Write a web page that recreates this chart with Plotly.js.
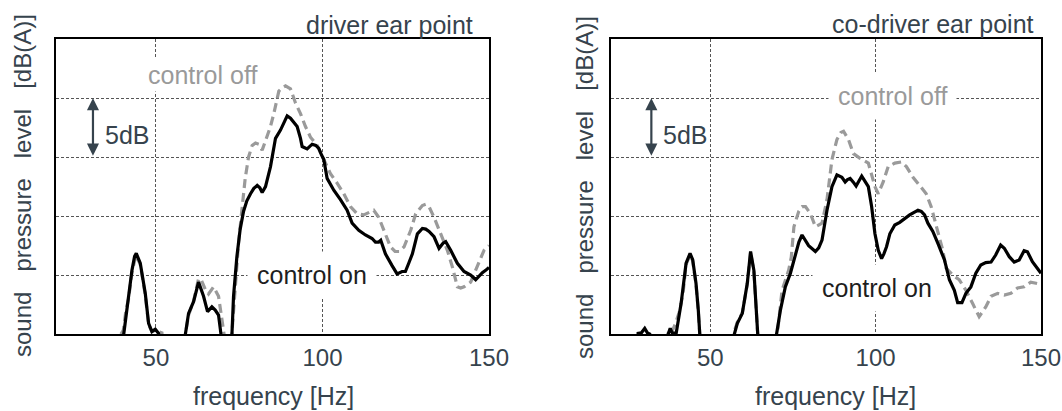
<!DOCTYPE html>
<html>
<head>
<meta charset="utf-8">
<script src="https://cdn.plot.ly/plotly-3.0.1.min.js"></script>
<style>html,body{margin:0;padding:0;background:#fff;}#chart{width:1062px;height:411px;}</style>
</head>
<body>
<div id="chart"></div>
<script>
// ---- data (relative sound pressure level, dB, 5 dB per grid step) ----
const tickVals = [50, 100, 150];
const tickText = ['50', '100', '150'];

// driver ear point, control on
const drvOnF = [20,40.0,40.3,41.8,42.8,43.6,44.1,45.3,46.8,47.8,48.8,49.8,50.8,51.5,
  58.3,58.8,59.8,61.3,62.8,64.3,65.5,66.8,67.8,68.8,69.5,70.0,
  72.0,72.8,73.3,74.3,75.3,76.3,77.3,78.4,79.4,80.4,81.2,81.9,82.9,84.4,85.9,87.4,88.4,89.4,90.4,91.4,92.4,93.4,93.9,95.4,96.9,98.0,98.9,99.7,100.4,101.4,102.4,103.4,105.4,107.4,108.9,109.9,110.9,112.9,114.9,115.9,116.9,117.5,118.9,120.9,122.4,123.9,124.9,125.9,127.0,128.5,130.0,131.0,132.0,133.5,135.0,136.2,137.0,138.5,140.5,142.5,144.5,146.0,147.0,148.0,149.0,150.0];
const drvOnV = [-3,-3,-0.1,3.2,5.4,6.6,6.84,6.0,3.45,0.9,0.2,0.4,0.05,-3,
  -3,-0.1,1.75,2.74,4.4,3.2,1.9,2.3,2.03,1.6,0.05,-3,
  -3,-0.2,3.2,6.55,8.9,10.4,11.3,11.9,12.35,12.6,12.4,12.0,12.5,14.2,16.6,17.3,17.9,18.5,18.3,17.9,17.6,16.6,15.9,15.7,16.1,16.0,15.75,15.2,14.8,13.2,12.7,12.2,11.4,10.5,9.4,9.1,8.8,8.4,8.1,7.8,7.8,7.95,6.8,5.8,5.1,5.3,5.3,6.0,6.8,8.5,8.96,8.9,8.7,8.25,7.27,7.7,7.83,7.1,6.0,5.3,5.0,4.6,4.9,5.2,5.4,5.65];

// driver ear point, control off
const drvOffF = [20,38.8,39.3,40.2,41.0,41.8,42.8,44.0,45.3,46.8,47.8,48.8,49.8,50.8,51.8,52.5,
  58.0,58.8,59.8,61.3,62.8,63.6,64.8,65.8,67.3,68.8,69.8,70.5,71.0,
  72.3,72.8,73.8,74.8,75.8,76.8,77.8,78.9,79.9,80.9,81.9,83.0,84.4,85.4,86.9,88.0,88.9,90.4,91.9,93.4,94.9,96.4,98.4,100.4,102.4,104.4,106.4,108.4,110.4,112.4,114.0,115.4,116.9,118.4,120.4,121.8,123.0,124.5,126.5,128.0,130.0,131.0,132.0,133.5,135.5,137.5,139.0,140.5,141.5,142.5,144.5,146.5,148.5,150.0];
const drvOffV = [-3,-3,-0.1,0.3,2.0,3.0,5.2,6.7,5.9,3.3,0.8,0.2,0.3,0.2,0.1,-3,
  -3,-0.1,1.6,2.8,4.7,4.6,3.8,3.4,4.0,3.2,1.5,-0.1,-3,
  -3,0,3.7,7.7,10.5,13.2,15.0,16.0,16.2,16.1,15.6,16.4,17.6,18.7,20.6,20.9,21.05,20.8,19.6,18.7,17.6,16.7,16.0,14.8,13.6,12.8,11.9,10.8,10.2,10.1,10.3,10.5,9.9,8.8,7.4,7.0,7.0,7.4,8.8,10.2,10.9,11.0,10.8,9.9,8.5,7.1,5.7,4.0,3.9,4.0,4.4,5.7,7.1,7.5];

// co-driver ear point, control on
const coOnF = [20,27.8,28.2,29.2,30.2,31.0,31.7,32.0,
  37.0,37.3,37.9,38.5,39.7,41.2,42.7,43.9,44.7,45.7,46.4,47.0,47.5,
  56.7,57.2,58.2,59.7,61.2,62.2,63.2,64.0,64.5,65.0,
  69.5,70.0,71.2,72.7,74.25,75.75,76.8,77.75,78.8,79.75,81.8,82.8,83.8,85.3,86.8,88.3,89.8,90.8,91.5,92.3,93.2,94.1,95.8,96.8,97.8,98.8,99.8,100.8,101.8,102.5,103.3,104.3,105.8,107.3,108.8,110.3,111.5,112.8,113.8,114.8,115.8,117.3,118.8,120.8,122.3,123.8,124.8,126.1,127.3,128.8,130.3,131.8,133.3,134.9,136.3,137.8,138.9,140.4,141.9,143.4,144.9,145.9,147.4,148.9,150.0];
const coOnV = [-3,-3,0.05,0.1,0.48,0.1,0,-3,
  -3,0.0,0.48,0.1,0.05,2.6,6.0,6.84,6.3,4.3,2.0,-0.1,-3,
  -3,-0.1,0.9,1.75,4.3,7.0,5.4,2.3,-0.1,-3,
  -3,-0.1,2.0,4.0,5.15,6.84,7.8,8.4,7.9,7.5,7.0,7.3,7.97,10.5,12.5,13.5,13.3,12.9,13.1,13.2,12.9,12.55,13.4,13.0,12.5,10.8,8.5,7.1,6.4,6.8,7.4,8.5,9.25,9.47,9.8,10.1,10.3,10.5,10.4,10.1,9.4,8.7,7.7,6.3,4.6,3.7,2.66,2.66,3.45,4.0,5.15,5.85,6.05,6.1,6.7,7.55,7.27,6.56,6.1,6.27,7.07,6.98,6.13,5.5,5.15];

// co-driver ear point, control off
const coOffF = [20,36.8,37.3,37.9,38.6,39.5,40.7,41.8,42.7,43.9,44.7,45.7,46.4,47.0,47.5,
  56.5,57.0,58.2,59.7,61.2,62.2,63.2,64.0,64.5,65.0,
  69.8,70.3,71.7,73.7,74.5,75.3,76.75,77.8,78.8,80.3,81.8,83.8,85.3,86.8,88.3,89.5,90.3,91.8,93.3,95.3,97.8,99.8,100.8,102.3,103.8,105.8,107.8,109.3,111.3,113.3,115.3,116.8,118.3,120.3,121.3,123.3,125.3,127.3,129.3,131.3,133.3,134.9,136.9,138.9,140.9,142.9,144.9,146.9,148.5,150.0];
const coOffV = [-3,-3,0.1,0.5,0.3,0.9,1.9,3.5,5.9,6.7,6.2,4.2,1.9,-0.1,-3,
  -3,0,1.0,1.8,4.2,6.9,5.3,2.2,-0.1,-3,
  -3,0,3.7,5.4,6.5,9.1,10.4,10.8,10.8,10.2,9.1,9.4,11.4,14.8,16.5,17.1,17.2,16.5,15.3,14.9,14.5,12.5,11.9,12.9,14.2,14.5,14.6,14.2,13.3,12.6,11.9,10.8,9.1,7.1,5.6,5.0,4.6,3.7,2.6,1.47,2.3,3.2,3.45,3.3,3.45,3.9,4.0,4.4,4.3,4.2];

// ---- styling ----
const W = 1062, H = 411;
const px = x => x / W;
const py = y => 1 - y / H;
const FONT = 'Liberation Sans, Arial, sans-serif';
const SLATE = '#36434d';
const OFFC = '#9a9a9a';

function offTrace(x, y, xa, ya) {
  return {x: x, y: y, xaxis: xa, yaxis: ya, type: 'scatter', mode: 'lines',
    line: {color: OFFC, width: 3.2, dash: '9px,5px'}, hoverinfo: 'skip'};
}
function onTrace(x, y, xa, ya) {
  return {x: x, y: y, xaxis: xa, yaxis: ya, type: 'scatter', mode: 'lines',
    line: {color: '#000', width: 3.2}, hoverinfo: 'skip'};
}

const data = [
  offTrace(drvOffF, drvOffV, 'x', 'y'),
  onTrace(drvOnF, drvOnV, 'x', 'y'),
  offTrace(coOffF, coOffV, 'x2', 'y2'),
  onTrace(coOnF, coOnV, 'x2', 'y2')
];

function xax(dom, anchor) {
  return {domain: dom, anchor: anchor, range: [20, 150], tickmode: 'array',
    tickvals: tickVals, ticktext: tickText, showgrid: true, gridcolor: '#555',
    griddash: '3px,2px', gridwidth: 1, zeroline: false, showline: true, mirror: true,
    linecolor: '#000', linewidth: 2, ticks: '', ticklabelstandoff: 1,
    tickfont: {family: FONT, size: 24, color: SLATE}, fixedrange: true};
}
function yax(anchor) {
  return {domain: [py(334), py(39.3)], anchor: anchor, range: [0, 25], tick0: 0, dtick: 5,
    showticklabels: false, showgrid: true, gridcolor: '#555', griddash: '3px,2px',
    gridwidth: 1, zeroline: false, showline: true, mirror: true, linecolor: '#000',
    linewidth: 2, ticks: '', fixedrange: true};
}

function txt(text, x, y, size, color, extra) {
  return Object.assign({text: text, xref: 'paper', yref: 'paper', x: px(x), y: py(y),
    xanchor: 'center', yanchor: 'middle', showarrow: false,
    font: {family: FONT, size: size, color: color}}, extra || {});
}
const ytitle = 'sound\u00a0\u00a0\u00a0pressure\u00a0\u00a0\u00a0level\u00a0\u00a0\u00a0[dB(A)]';

const annotations = [
  txt('driver ear point', 475, 25, 25, SLATE, {xanchor: 'right'}),
  txt('co-driver ear point', 1036, 24, 25, SLATE, {xanchor: 'right'}),
  txt('frequency [Hz]', 273, 396, 25, SLATE),
  txt('frequency [Hz]', 835, 396, 25, SLATE),
  txt(ytitle, 22, 186, 24, SLATE, {textangle: -90}),
  txt(ytitle, 584, 188, 24, SLATE, {textangle: -90}),
  txt('control off', 202, 75, 25, OFFC, {bgcolor: '#fff', borderpad: 2}),
  txt('control on', 312, 275, 25, '#1e1e1e', {bgcolor: '#fff', borderpad: 9}),
  txt('control off', 892, 96, 25, OFFC, {bgcolor: '#fff', borderpad: 9}),
  txt('control on', 877, 288, 25, '#1e1e1e', {bgcolor: '#fff', borderpad: 9}),
  txt('5dB', 127, 135, 25, SLATE),
  txt('5dB', 685, 135, 25, SLATE),
  {xref: 'x', yref: 'y', axref: 'x', ayref: 'y', x: 31.1, y: 20, ax: 31.1, ay: 15,
    text: '', showarrow: true, arrowside: 'end+start', arrowhead: 2, arrowsize: 1.1,
    arrowwidth: 2.2, arrowcolor: SLATE, standoff: 0, startstandoff: 0},
  {xref: 'x2', yref: 'y2', axref: 'x2', ayref: 'y2', x: 32.2, y: 20, ax: 32.2, ay: 15,
    text: '', showarrow: true, arrowside: 'end+start', arrowhead: 2, arrowsize: 1.1,
    arrowwidth: 2.2, arrowcolor: SLATE, standoff: 0, startstandoff: 0}
];

const layout = {
  width: W, height: H, margin: {l: 0, r: 0, t: 0, b: 0, pad: 0},
  paper_bgcolor: '#fff', plot_bgcolor: '#fff', showlegend: false,
  xaxis: xax([px(56), px(489)], 'y'),
  yaxis: yax('x'),
  xaxis2: xax([px(611), px(1041)], 'y2'),
  yaxis2: yax('x2'),
  annotations: annotations
};

Plotly.newPlot('chart', data, layout, {staticPlot: true, displayModeBar: false});
</script>
</body>
</html>
